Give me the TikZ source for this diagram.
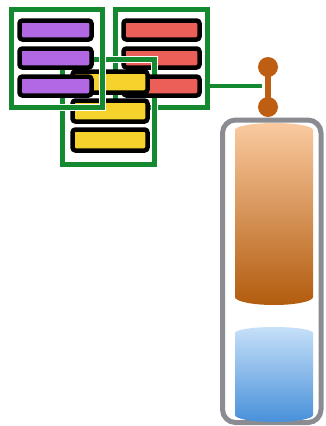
\documentclass[tikz,border=0pt]{standalone}
\usepackage{xcolor}
\usepackage{tikz}

\definecolor{framegreen}{RGB}{20,137,48}
\definecolor{barpurple}{RGB}{178,104,226}
\definecolor{barred}{RGB}{236,94,88}
\definecolor{baryellow}{RGB}{246,210,44}
\definecolor{knoborange}{RGB}{190,94,18}
\definecolor{tankgray}{RGB}{138,140,145}
\definecolor{peachtop}{RGB}{250,202,160}
\definecolor{rustbottom}{RGB}{178,92,14}
\definecolor{skytop}{RGB}{198,224,248}
\definecolor{skybottom}{RGB}{72,144,218}

\begin{document}
\begin{tikzpicture}[x=1pt,y=-1pt,
    groupbox/.style={draw=framegreen, line width=4.5pt, preaction={draw=white, line width=7.5pt},
        inner sep=0pt, minimum width=92pt, minimum height=98pt},
    slotbar/.style={draw=black, line width=4.5pt, rounded corners=3pt, inner sep=0pt,
        minimum width=74pt, minimum height=19pt},
    knob/.style={circle, fill=knoborange, inner sep=0pt, minimum size=20pt},
    tank/.style={draw=tankgray, line width=5pt, rounded corners=13pt, fill=white, inner sep=0pt}]
    \useasboundingbox (0,0) rectangle (325,426);

    % Red group (bottom layer)
    \node[groupbox] (redframe) at (161.5,58.5) {};
    \node[slotbar, fill=barred, minimum width=76pt] (r1) at (161.5,30) {};
    \node[slotbar, fill=barred, minimum width=76pt] (r2) at (161.5,58) {};

    % Yellow group
    \node[groupbox, minimum height=105pt] (yellowframe) at (108.5,112) {};
    \node[slotbar, fill=barred, minimum width=76pt] (r3) at (161.5,86) {};
    \node[slotbar, fill=baryellow, minimum width=75pt, minimum height=21pt] (y1) at (110,82) {};
    \node[slotbar, fill=baryellow, minimum width=75pt, minimum height=21pt] (y2) at (110,111) {};
    \node[slotbar, fill=baryellow, minimum width=75pt, minimum height=21pt] (y3) at (110,140) {};

    % Purple group (top layer)
    \node[groupbox, minimum width=91pt] (purpleframe) at (57,58.5) {};
    \node[slotbar, fill=barpurple, minimum width=72pt] (p1) at (55.5,30) {};
    \node[slotbar, fill=barpurple, minimum width=72pt] (p2) at (55.5,58) {};
    \node[slotbar, fill=barpurple, minimum width=72pt] (p3) at (55.5,86) {};

    % Link to the stack
    \coordinate (tap) at (262,86);
    \draw[framegreen, line width=4.5pt] (redframe.east |- tap) -- (tap);

    % Dumbbell
    \node[knob] (knobtop) at (268,67) {};
    \node[knob] (knobbot) at (268,107) {};
    \draw[knoborange, line width=6pt] (knobtop.center) -- (knobbot.center);

    % Tank
    \node[tank, minimum width=98.5pt, minimum height=302.5pt] (tankbox) at (271.75,271.25) {};

    % Upper cylinder
    \shade[top color=peachtop, bottom color=rustbottom]
        (235,130) arc[start angle=180, end angle=0, x radius=39pt, y radius=7pt]
        -- (313,297) arc[start angle=0, end angle=-180, x radius=39pt, y radius=8pt] -- cycle;

    % Lower cylinder
    \shade[top color=skytop, bottom color=skybottom]
        (235,333) arc[start angle=180, end angle=0, x radius=39pt, y radius=6pt]
        -- (313,415) arc[start angle=0, end angle=-180, x radius=39pt, y radius=7pt] -- cycle;
\end{tikzpicture}
\end{document}
